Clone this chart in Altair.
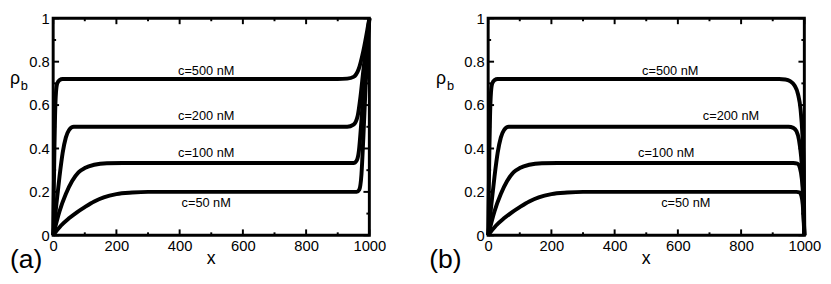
import altair as alt
import pandas as pd

FONT = "Liberation Sans"
W, H = 322, 221

# ---- curve data ----
series_names = ["c=50 nM", "c=100 nM", "c=200 nM", "c=500 nM"]

# rising part near x=0 (same in both panels)
rise50_x = [0, 25, 50, 75, 100, 130, 160, 200, 250, 300]
rise50_y = [0, 0.045, 0.078, 0.106, 0.13, 0.156, 0.175, 0.19, 0.197, 0.2]
rise100_x = [0, 20, 40, 60, 80, 100, 130, 170, 220]
rise100_y = [0, 0.11, 0.19, 0.25, 0.29, 0.31, 0.325, 0.332, 0.333]
rise200_x = [0, 10, 20, 30, 40, 50, 65, 80]
rise200_y = [0, 0.14, 0.27, 0.38, 0.45, 0.485, 0.5, 0.5]
rise500_x = [0, 2, 4, 6, 9, 13, 20, 30]
rise500_y = [0, 0.2, 0.4, 0.55, 0.66, 0.70, 0.715, 0.72]

# panel (a): curves rise to 1 at x=1000
a50_x = [500, 960, 968, 975, 981, 988, 994, 1000]
a50_y = [0.2, 0.2, 0.21, 0.28, 0.45, 0.68, 0.85, 1.0]
a100_x = [500, 950, 960, 967, 975, 983, 991, 1000]
a100_y = [0.333, 0.333, 0.345, 0.39, 0.53, 0.7, 0.85, 1.0]
a200_x = [500, 930, 950, 963, 972, 981, 990, 1000]
a200_y = [0.5, 0.5, 0.51, 0.55, 0.64, 0.76, 0.87, 1.0]
a500_x = [500, 900, 930, 950, 966, 981, 994, 1000]
a500_y = [0.72, 0.72, 0.722, 0.73, 0.765, 0.85, 0.95, 1.0]

# panel (b): curves fall to 0 at x=1000
b50_x = [500, 975, 985, 991, 995, 1000]
b50_y = [0.2, 0.2, 0.197, 0.18, 0.14, 0.0]
b100_x = [500, 965, 978, 986, 992, 996, 1000]
b100_y = [0.333, 0.333, 0.33, 0.31, 0.26, 0.18, 0.0]
b200_x = [500, 950, 965, 975, 983, 990, 995, 1000]
b200_y = [0.5, 0.5, 0.495, 0.48, 0.44, 0.36, 0.25, 0.0]
b500_x = [500, 920, 940, 955, 969, 980, 988, 994, 998, 1000]
b500_y = [0.72, 0.72, 0.718, 0.71, 0.69, 0.65, 0.58, 0.46, 0.3, 0.0]

# curve labels
a_lab_x = [484, 484, 484, 484]
a_lab_y = [0.147, 0.379, 0.549, 0.759]
b_lab_x = [625, 563, 768, 576]
b_lab_y = [0.147, 0.379, 0.549, 0.759]

# axis ticks
x_major = [0, 200, 400, 600, 800, 1000]
x_minor = [100, 300, 500, 700, 900]
y_major = [0, 0.2, 0.4, 0.6, 0.8, 1.0]
y_minor = [0.1, 0.3, 0.5, 0.7, 0.9]

rises = [(rise50_x, rise50_y), (rise100_x, rise100_y), (rise200_x, rise200_y), (rise500_x, rise500_y)]
ends_a = [(a50_x, a50_y), (a100_x, a100_y), (a200_x, a200_y), (a500_x, a500_y)]
ends_b = [(b50_x, b50_y), (b100_x, b100_y), (b200_x, b200_y), (b500_x, b500_y)]


def build_df(ends):
    rows = []
    for name, (rx, ry), (ex, ey) in zip(series_names, rises, ends):
        for xv, yv in zip(rx + ex, ry + ey):
            rows.append({"x": xv, "y": yv, "series": name})
    return pd.DataFrame(rows)


xs = alt.Scale(domain=[0, 1000], nice=False, zero=False)
ys = alt.Scale(domain=[0, 1], nice=False, zero=False)
xaxis = alt.Axis(values=x_major, ticks=False, domain=False, grid=False, labelFlush=False,
                 labelPadding=4, format="d", title=None)
yaxis = alt.Axis(values=y_major, ticks=False, domain=False, grid=False, format="~g",
                 labelPadding=4, title=None)


def txt(s, size, xv, yv, align="left"):
    return alt.Chart(pd.DataFrame({"t": [s]})).mark_text(
        font=FONT, fontSize=size, align=align, baseline="middle", color="black").encode(
        x=alt.value(xv), y=alt.value(yv), text="t:N")


def panel(ends, lab_x, lab_y, tag, tag_x, rho_x):
    df = build_df(ends)
    X = alt.X("x:Q", scale=xs, axis=xaxis)
    Y = alt.Y("y:Q", scale=ys, axis=yaxis)
    lines = alt.Chart(df).mark_line(color="black", strokeWidth=4, interpolate="monotone").encode(
        x=X, y=Y, detail="series:N")
    labs = alt.Chart(pd.DataFrame({"x": lab_x, "y": lab_y, "label": series_names})).mark_text(
        font=FONT, fontSize=13, color="black").encode(x=X, y=Y, text="label:N")
    layers = [lines, labs]
    for vals, ln in [(x_major, 6), (x_minor, 3)]:
        d = pd.DataFrame({"x": vals})
        layers.append(alt.Chart(d).mark_rule(color="black", strokeWidth=2).encode(
            x=X, y=alt.value(H), y2=alt.value(H - ln)))
        layers.append(alt.Chart(d).mark_rule(color="black", strokeWidth=2).encode(
            x=X, y=alt.value(0), y2=alt.value(ln)))
    for vals, ln in [(y_major, 6), (y_minor, 3)]:
        d = pd.DataFrame({"y": vals})
        layers.append(alt.Chart(d).mark_rule(color="black", strokeWidth=2).encode(
            y=Y, x=alt.value(0), x2=alt.value(ln)))
        layers.append(alt.Chart(d).mark_rule(color="black", strokeWidth=2).encode(
            y=Y, x=alt.value(W), x2=alt.value(W - ln)))
    layers += [
        txt("ρ", 18, rho_x, 62),
        txt("b", 13, rho_x + 11, 69),
        txt("x", 18, W / 2, H + 24, align="center"),
        txt(tag, 27, tag_x, H + 25),
    ]
    return alt.layer(*layers).properties(width=W, height=H)


pa = panel(ends_a, a_lab_x, a_lab_y, "(a)", -44, -44)
pb = panel(ends_b, b_lab_x, b_lab_y, "(b)", -60, -53)

chart = alt.hconcat(pa, pb, spacing=40).properties(
    padding={"top": -2, "left": 0, "right": 0, "bottom": 0}).configure_view(
    stroke="black", strokeWidth=3).configure_axis(
    labelFont=FONT, labelFontSize=15, labelColor="black",
    titleFont=FONT, titleFontSize=17, titleFontWeight="normal", titleColor="black")

chart.save("out.html", embed_options={"renderer": "svg", "actions": False})
